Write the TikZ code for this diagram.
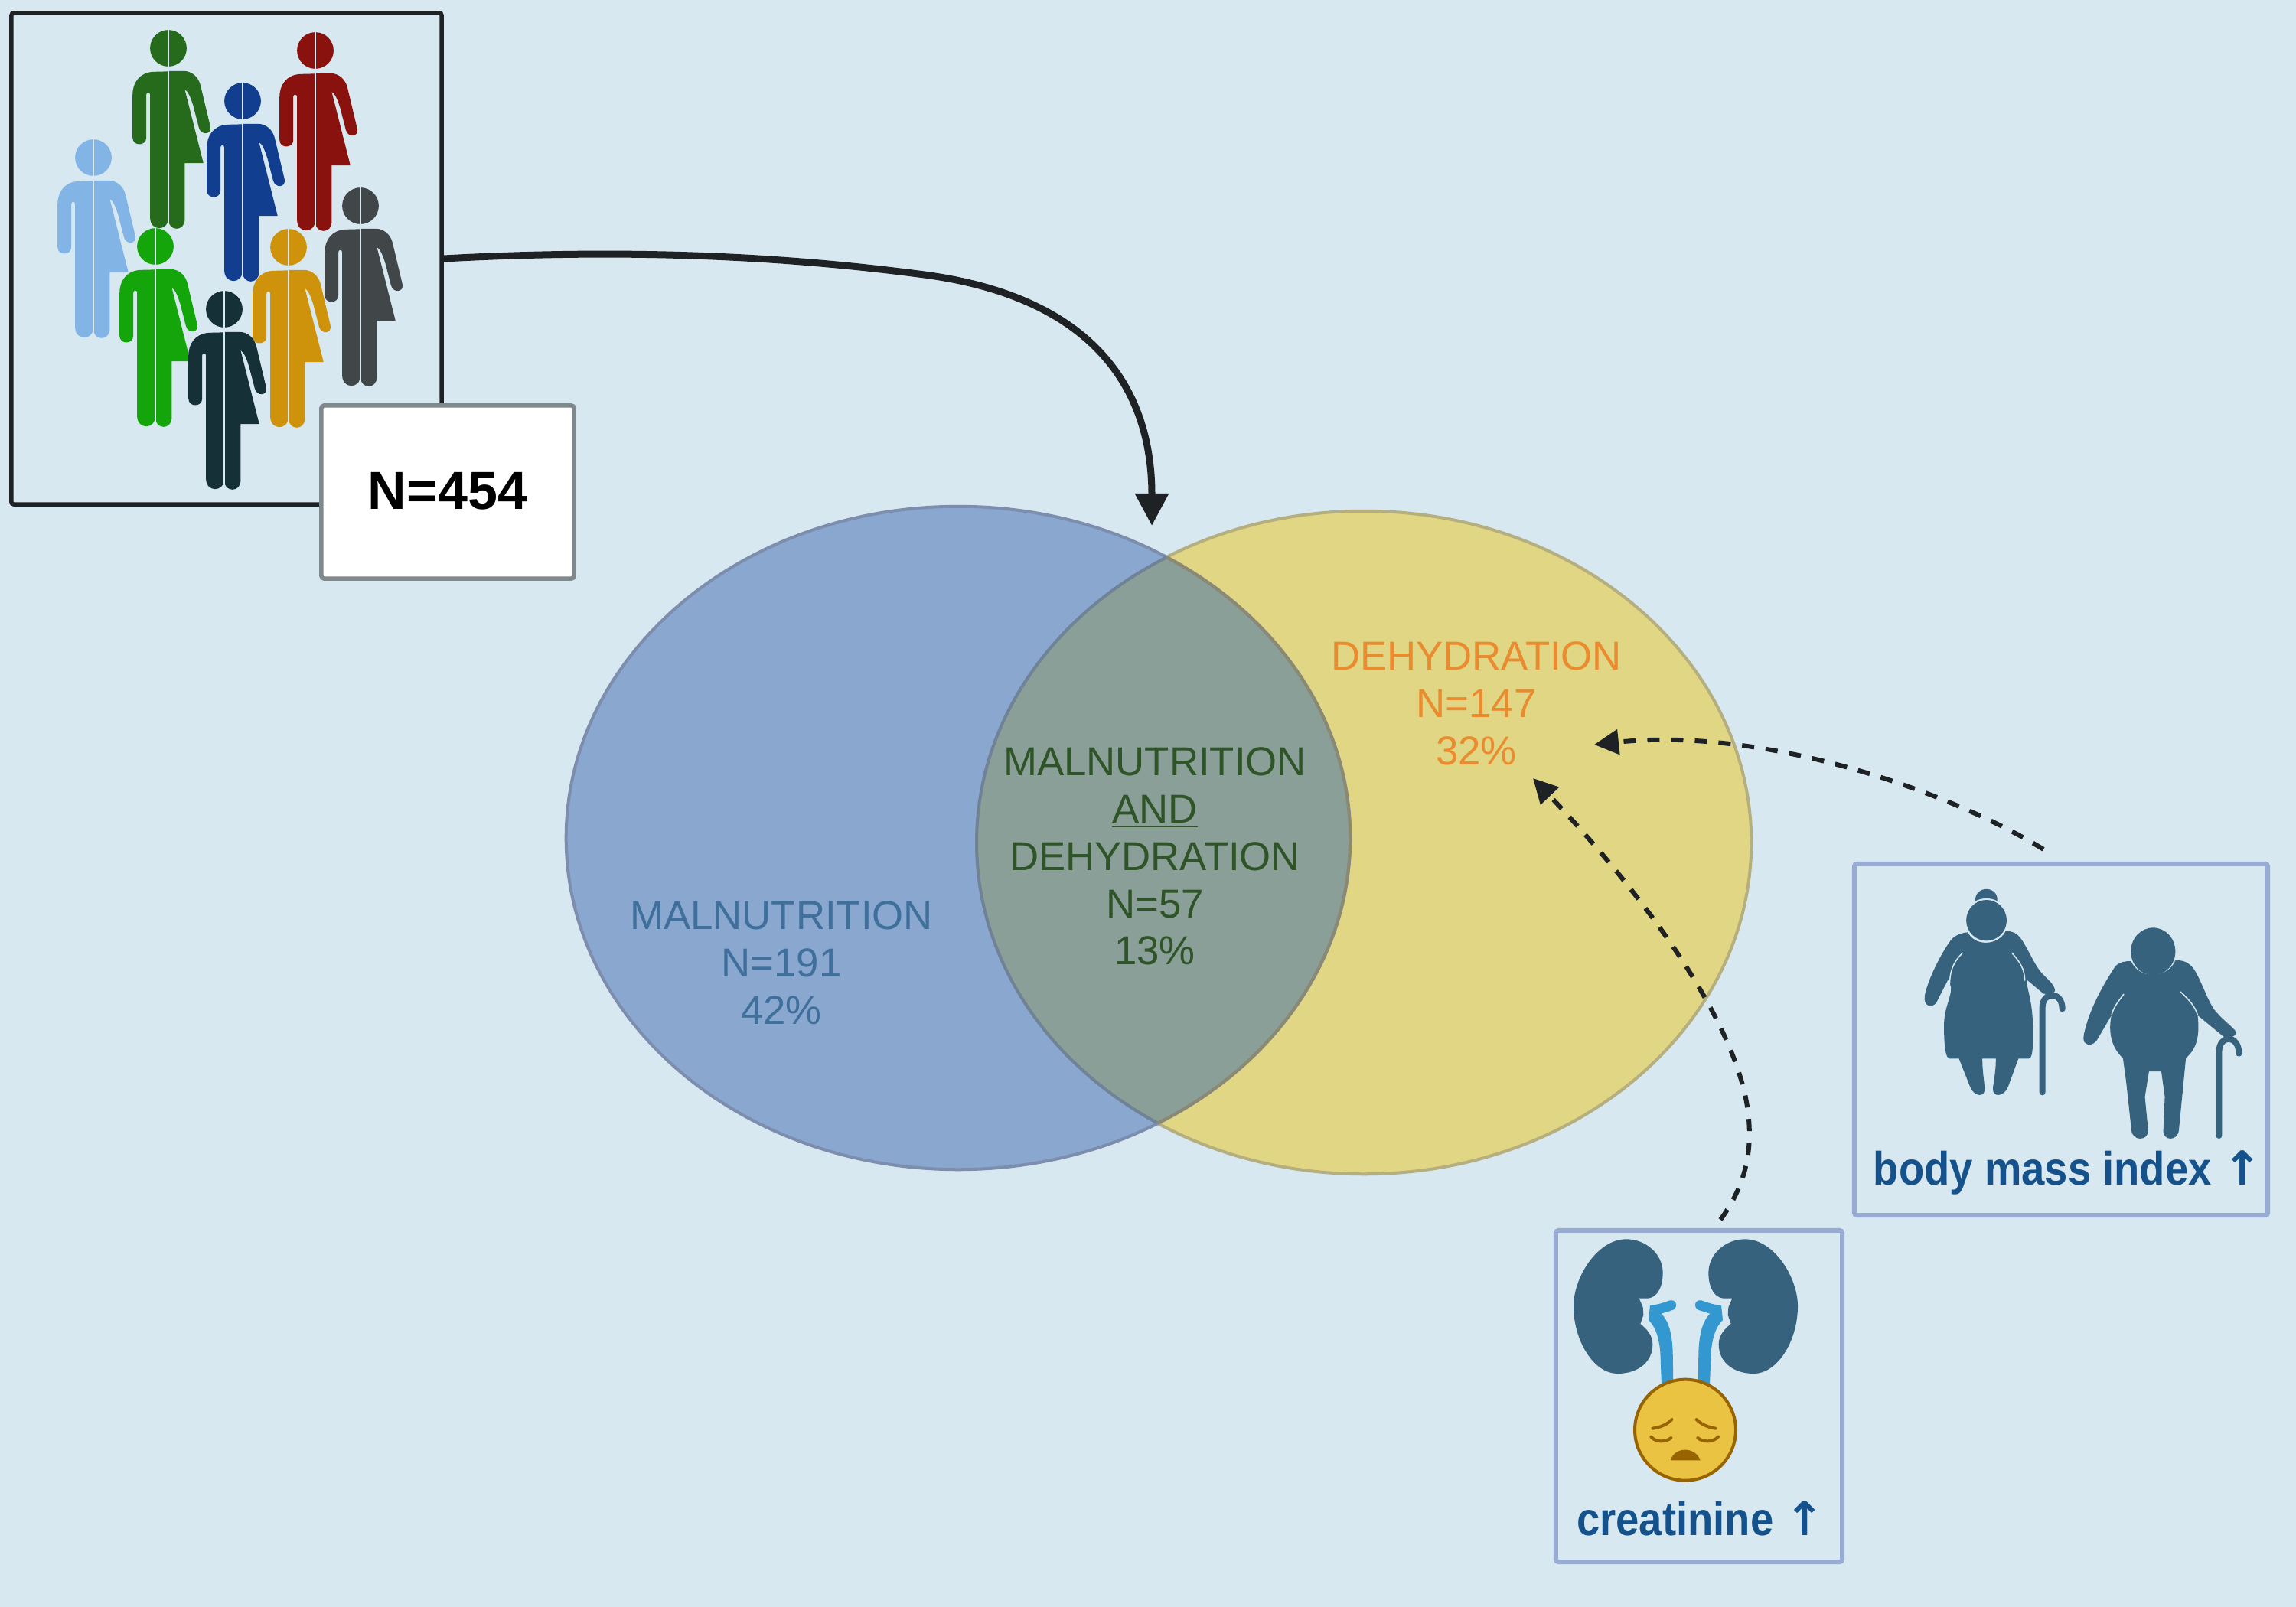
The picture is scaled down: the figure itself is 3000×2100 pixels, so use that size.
\documentclass[tikz,border=0pt]{standalone}
\usepackage{fontspec}
\setmainfont{Liberation Sans}
\newfontfamily\tallfont[FakeStretch=0.89]{Liberation Sans}
\newfontfamily\arrowfont{DejaVu Sans}
\usetikzlibrary{arrows.meta,shapes.geometric}
\definecolor{PageBlue}{HTML}{D7E8F1}
\definecolor{Ink}{HTML}{1F2224}
\definecolor{FrameGray}{HTML}{7F898D}
\definecolor{SetBlue}{HTML}{89A7CF}
\definecolor{SetBlueEdge}{HTML}{7C8DAE}
\definecolor{SetGold}{HTML}{E0D683}
\definecolor{SetGoldEdge}{HTML}{B5AF80}
\definecolor{SetBoth}{HTML}{8A9F98}
\definecolor{BothEdgeA}{HTML}{708296}
\definecolor{BothEdgeB}{HTML}{8C8972}
\definecolor{TextBlue}{HTML}{3F709C}
\definecolor{TextOrange}{HTML}{E98B2E}
\definecolor{TextGreen}{HTML}{2F5428}
\definecolor{BoxEdge}{HTML}{98ABD3}
\definecolor{BoxText}{HTML}{15528C}
\definecolor{Slate}{HTML}{37627E}
\definecolor{Ureter}{HTML}{3498D0}
\definecolor{FaceFill}{HTML}{E9C341}
\definecolor{FaceEdge}{HTML}{986400}
\definecolor{PersonSky}{HTML}{82B4E6}
\definecolor{PersonMoss}{HTML}{256B1B}
\definecolor{PersonNavy}{HTML}{113E8E}
\definecolor{PersonRed}{HTML}{89120E}
\definecolor{PersonGrey}{HTML}{414649}
\definecolor{PersonGreen}{HTML}{14A50A}
\definecolor{PersonAmber}{HTML}{CE930B}
\definecolor{PersonTeal}{HTML}{153137}

\begin{document}
\begin{tikzpicture}[
    x=0.01cm, y=-0.01cm,
    setlabel/.style={align=center, inner sep=0pt, font=\fontsize{15}{17.6}\selectfont},
    infobox/.style={draw=BoxEdge, line width=0.6mm, rounded corners=1pt},
    boxlabel/.style={anchor=base, inner sep=0pt, text=BoxText, font=\tallfont\bfseries\fontsize{17.4}{20}\selectfont},
    setshape/.style={ellipse, inner sep=0pt, line width=0.4mm},
    flow/.style={-{Triangle[length=4.2mm,width=4.2mm]}, draw=Ink, line width=0.9mm},
    hint/.style={-{Triangle[length=3.2mm,width=3.2mm]}, draw=Ink, line width=0.6mm, dash pattern=on 1.6mm off 1.5mm},
    pics/person/.style={code={
      \fill[#1] (0,0) circle[radius=48];
      \fill[#1] (0,61) -- (-40,62) .. controls (-75,64) and (-94,90) .. (-94,122) -- (-94,235)
        .. controls (-94,258) and (-58,258) .. (-58,235) -- (-58,122) .. controls (-58,114) and (-48,114) .. (-48,122)
        -- (-48,445) .. controls (-48,482) and (0,482) .. (0,445) -- cycle;
      \fill[#1] (0,60) -- (40,60) .. controls (62,60) and (80,76) .. (85,100) -- (110,205)
        .. controls (115,228) and (85,230) .. (80,208) -- (65,150) .. controls (58,128) and (52,114) .. (43,108)
        -- (92,302) -- (43,302) -- (43,450) .. controls (43,482) and (0,482) .. (0,450) -- cycle;
      \draw[PageBlue, line width=0.28mm] (0,-50) -- (0,480);
    }},
    pics/kidney/.style={code={
      \fill[Slate] (425,350) -- (460,350) .. controls (500,345) and (518,300) .. (518,250)
        .. controls (518,175) and (450,118) .. (375,118) .. controls (260,118) and (168,270) .. (168,380)
        .. controls (168,520) and (250,645) .. (340,645) .. controls (420,645) and (478,600) .. (478,530)
        .. controls (478,495) and (455,470) .. (430,450) -- (442,415) -- (440,385) -- cycle;
      \fill[Ureter] (513,690) -- (508,560) .. controls (503,510) and (493,465) .. (462,435) -- (468,378)
        .. controls (495,375) and (520,368) .. (545,358) .. controls (575,352) and (580,392) .. (550,398)
        -- (512,410) .. controls (542,440) and (554,490) .. (557,560) -- (559,690) -- cycle;
    }}
  ]
    \useasboundingbox (0,0) rectangle (3000,2100);
    \fill[PageBlue] (0,0) rectangle (3000,2100);

    % cohort
    \node[draw=Ink, line width=0.55mm, rounded corners=1pt, minimum width=5.62cm, minimum height=6.42cm] (cohort) at (296,338) {};
    \pic[scale=.4975] at (122,206) {person=PersonSky};
    \pic[scale=.4975] at (220,63) {person=PersonMoss};
    \pic[scale=.4975] at (317,132) {person=PersonNavy};
    \pic[scale=.4975] at (412,66) {person=PersonRed};
    \pic[scale=.4975] at (471,269) {person=PersonGrey};
    \pic[scale=.4975] at (203,322) {person=PersonGreen};
    \pic[scale=.4975] at (377,323) {person=PersonAmber};
    \pic[scale=.4975] at (293,404) {person=PersonTeal};
    \node[draw=FrameGray, fill=white, line width=0.55mm, rounded corners=1pt, minimum width=3.3cm, minimum height=2.26cm,
      font=\bfseries\fontsize{19.9}{22}\selectfont] (total) at (585,643) {\raisebox{0.4mm}{N=454}};

    % sets
    \node[setshape, draw=SetGoldEdge, fill=SetGold, minimum width=10.12cm, minimum height=8.66cm] (dehydration) at (1782,1101) {};
    \node[setshape, draw=SetBlueEdge, fill=SetBlue, minimum width=10.24cm, minimum height=8.66cm] (malnutrition) at (1252,1095) {};
    \begin{scope}
      \clip (1252,1095) ellipse[x radius=512, y radius=433];
      \filldraw[fill=SetBoth, draw=BothEdgeA, line width=0.4mm] (1782,1101) ellipse[x radius=506, y radius=433];
    \end{scope}
    \begin{scope}
      \clip (1782,1101) ellipse[x radius=506, y radius=433];
      \draw[draw=BothEdgeB, line width=0.4mm] (1252,1095) ellipse[x radius=512, y radius=433];
    \end{scope}
    \node[setlabel, text=TextBlue] (malnutritionlabel) at (1021,1258) {MALNUTRITION\\N=191\\42\%};
    \node[setlabel, text=TextOrange] (dehydrationlabel) at (1929,919) {DEHYDRATION\\N=147\\32\%};
    \node[setlabel, text=TextGreen] (bothlabel) at (1509,1119) {MALNUTRITION\\\underline{AND}\\DEHYDRATION\\N=57\\13\%};

    % risk factors
    \node[infobox, minimum width=5.4cm, minimum height=4.59cm] (bmibox) at (2693,1358.5) {};
    \node[infobox, minimum width=3.74cm, minimum height=4.33cm] (creatininebox) at (2220,1824.5) {};
    \node[boxlabel] (bmilabel) at (2702,1548) {body mass index {\arrowfont ↑}};
    \node[boxlabel] (creatininelabel) at (2222,2006) {creatinine {\arrowfont ↑}};

    \begin{scope}[shift={(2400,1100)}, xscale=.38265, yscale=1/3]
      \fill[Slate] (511,308) ellipse[x radius=69, y radius=80];
      \fill[Slate] (473,232) .. controls (470,170) and (552,170) .. (548,232) .. controls (525,218) and (497,218) .. cycle;
      \fill[Slate] (447,355) .. controls (470,410) and (550,410) .. (577,350) .. controls (610,350) and (625,370) .. (640,400)
        .. controls (665,450) and (680,490) .. (700,515) .. controls (720,540) and (745,560) .. (745,585)
        .. controls (740,600) and (720,600) .. (705,595) -- (648,540) .. controls (650,590) and (670,620) .. (670,750)
        .. controls (670,810) and (668,850) .. (655,850) -- (620,850) -- (585,960)
        .. controls (572,1000) and (530,1005) .. (533,965) .. controls (540,910) and (543,890) .. (543,850) -- (497,850)
        .. controls (497,890) and (500,910) .. (505,965) .. controls (508,1005) and (468,1000) .. (455,960)
        -- (417,850) -- (385,850) .. controls (370,850) and (366,790) .. (366,720) .. controls (366,650) and (392,610) .. (390,570)
        -- (380,540) -- (340,630) .. controls (325,655) and (295,645) .. (300,605)
        .. controls (310,540) and (360,430) .. (390,385) .. controls (405,365) and (425,358) .. cycle;
      \draw[PageBlue, line width=0.15mm] (430,435) .. controls (395,475) and (385,510) .. (385,570);
      \draw[PageBlue, line width=0.15mm] (597,435) .. controls (625,470) and (642,500) .. (642,545);
      \draw[Slate, line width=0.8mm, line cap=round] (702,982) -- (702,650) .. controls (702,585) and (770,585) .. (770,655);

      \fill[Slate] (1080,430) ellipse[x radius=76, y radius=93];
      \fill[Slate] (1005,468) .. controls (1030,540) and (1130,540) .. (1156,465) .. controls (1190,463) and (1210,480) .. (1225,510)
        .. controls (1250,560) and (1265,620) .. (1290,660) .. controls (1315,695) and (1345,720) .. (1360,740)
        .. controls (1370,760) and (1345,772) .. (1325,768) -- (1232,680) .. controls (1240,760) and (1230,810) .. (1192,848)
        -- (1168,1130) .. controls (1165,1175) and (1112,1175) .. (1115,1130) -- (1120,1000) -- (1108,900) -- (1066,900) -- (1052,1000)
        -- (1063,1130) .. controls (1065,1175) and (1008,1175) .. (1006,1130) -- (988,940) -- (977,848)
        .. controls (940,810) and (925,750) .. (938,680) -- (892,770) .. controls (875,810) and (835,800) .. (843,760)
        .. controls (860,660) and (910,560) .. (950,490) .. controls (965,470) and (985,468) .. cycle;
      \draw[PageBlue, line width=0.15mm] (980,597) .. controls (955,635) and (945,650) .. (938,680);
      \draw[PageBlue, line width=0.15mm] (1172,587) .. controls (1205,620) and (1225,650) .. (1232,680);
      \draw[Slate, line width=0.8mm, line cap=round] (1305,1152) -- (1305,825) .. controls (1305,755) and (1373,755) .. (1373,830);
    \end{scope}

    \pic[scale=1/3] at (2000,1580) {kidney};
    \pic[xscale=-1/3, yscale=1/3] at (2405,1580) {kidney};
    \begin{scope}[shift={(2000,1580)}, scale=1/3]
      \filldraw[fill=FaceFill, draw=FaceEdge, line width=0.4mm] (606,866) circle[radius=198];
      \draw[FaceEdge, line width=0.4mm, line cap=round] (478,860) .. controls (510,855) and (535,845) .. (553,825);
      \draw[FaceEdge, line width=0.4mm, line cap=round] (725,860) .. controls (695,855) and (670,845) .. (650,825);
      \draw[FaceEdge, line width=0.4mm, line cap=round] (472,893) .. controls (490,915) and (530,915) .. (550,897);
      \draw[FaceEdge, line width=0.4mm, line cap=round] (735,893) .. controls (715,915) and (675,915) .. (655,897);
      \fill[FaceEdge] (548,985) .. controls (565,930) and (645,930) .. (665,985) -- cycle;
    \end{scope}

    \coordinate (setsmeet) at (1505,687);
    \coordinate (bmitip) at (2083,973);
    \coordinate (creatininetip) at (2003,1017);

    \draw[flow] (cohort.east) .. controls (800,326) and (1000,332) .. (1200,358)
      .. controls (1420,385) and (1505,500) .. (setsmeet);
    \draw[hint] ([shift={(-23,-16)}]bmibox.north) .. controls (2540,1030) and (2300,950) .. (bmitip);
    \draw[hint] ([shift={(28,-11)}]creatininebox.north) .. controls (2280,1550) and (2295,1500) .. (2280,1430)
      .. controls (2250,1300) and (2120,1140) .. (creatininetip);
  \end{tikzpicture}
\end{document}
